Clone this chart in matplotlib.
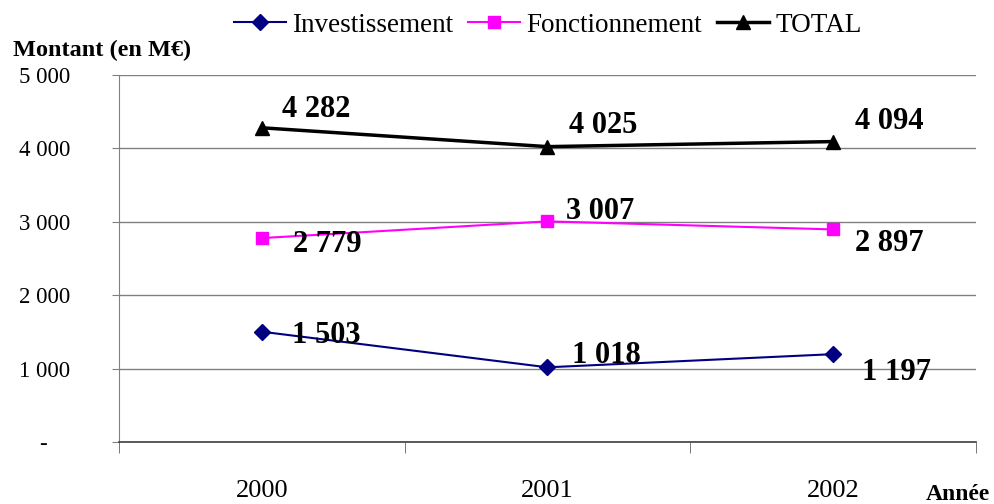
import matplotlib
matplotlib.use("Agg")
import matplotlib.pyplot as plt
from matplotlib.lines import Line2D

plt.rcParams['font.family'] = ['Liberation Serif', 'DejaVu Serif']

years = ['2000', '2001', '2002']
investissement = [1503, 1018, 1197]
fonctionnement = [2779, 3007, 2897]
total = [4282, 4025, 4094]

y_ticks = [0, 1000, 2000, 3000, 4000, 5000]
y_tick_labels = ['-    ', '1 000', '2 000', '3 000', '4 000', '5 000']

# manual label offsets in pixels (dx, dy up to the digit centre), like the Excel layout
off_inv = [(30, -1), (25, 14), (29, -16)]
off_fon = [(31, -4), (19, 12), (22, -12)]
off_tot = [(20, 21), (22, 24), (22, 23)]


def fmt(v):
    return f"{v:,}".replace(",", " ")


fig = plt.figure(figsize=(9.94, 5.04), dpi=100)
ax = fig.add_axes([0.1197, 0.123, 0.862, 0.728])

x = list(range(len(years)))
series = [
    (investissement, 'Investissement', '#000080', 'D', 1.5, 8, off_inv),
    (fonctionnement, 'Fonctionnement', '#FF00FF', 's', 1.5, 8, off_fon),
    (total, 'TOTAL', 'black', '^', 2.5, 9.5, off_tot),
]

handles = []
for vals, name, col, mk, lw, ms, offs in series:
    ax.plot(x, vals, color=col, marker=mk, lw=lw, ms=ms, zorder=3, clip_on=False)
    handles.append(Line2D([], [], color=col, marker=mk, lw=lw, ms=ms, label=name))
    for xi, v, (dx, dy) in zip(x, vals, offs):
        ax.annotate(fmt(v), (xi, v), xytext=(dx, dy - 10), textcoords='offset pixels',
                    ha='left', va='baseline', fontsize=22, fontweight='bold')

ax.set_xlim(-0.5, 2.5)
ax.set_ylim(0, 5000)
ax.set_yticks(y_ticks)
ax.set_yticklabels(y_tick_labels, fontsize=16.5)
ax.yaxis.grid(True, color='#808080', lw=1)
ax.set_axisbelow(True)

ax.set_xticks(x)
ax.set_xticklabels(years, fontsize=19)
ax.set_xticks([-0.5, 0.5, 1.5, 2.5], minor=True)
ax.tick_params(axis='x', which='major', length=0, pad=27)
ax.tick_params(axis='x', which='minor', length=8, color='#606060', direction='out')
ax.tick_params(axis='y', length=5, color='#808080', pad=30)

for s in ['top', 'right']:
    ax.spines[s].set_visible(False)
ax.spines['left'].set_color('#808080')
ax.spines['bottom'].set_color('#404040')
ax.spines['bottom'].set_linewidth(1.2)

fig.text(13 / 994, 1 - 50 / 504, 'Montant (en M€)', fontsize=17.5, fontweight='bold',
         ha='left', va='center')
fig.text(990 / 994, 1 - 494 / 504, 'Année', fontsize=17, fontweight='bold',
         ha='right', va='center')

fig.legend(handles=handles, loc='center', bbox_to_anchor=(548 / 994, 1 - 25 / 504),
           ncol=3, frameon=False, fontsize=19.5, handlelength=1.9, handletextpad=0.25,
           columnspacing=0.55, borderpad=0)

fig.savefig('out.png', dpi=100)
